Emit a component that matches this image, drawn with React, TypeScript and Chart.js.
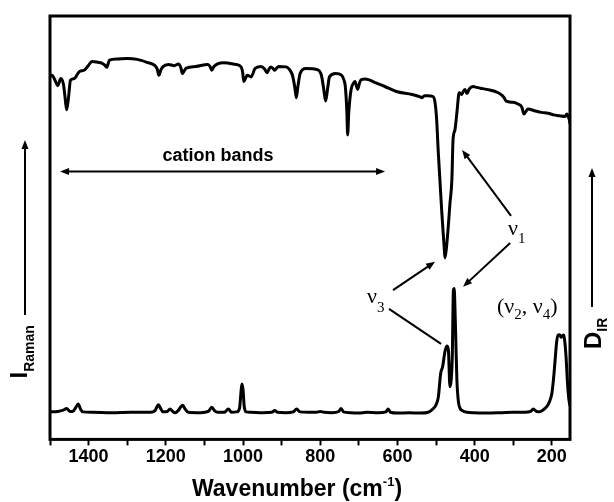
import { useEffect, useRef } from "react";
import { Chart, registerables } from "chart.js";
Chart.register(...registerables);

// ---------- data ----------
const IR_WAVENUMBER = [
  1500, 1495, 1487, 1480, 1472, 1465, 1461, 1457, 1452, 1447,
  1437, 1428, 1422, 1411, 1401, 1391, 1376, 1366, 1358, 1353,
  1346, 1325, 1300, 1274, 1249, 1228, 1222, 1218, 1213, 1208,
  1193, 1178, 1167, 1161, 1157, 1152, 1147, 1122, 1091, 1085,
  1081, 1076, 1066, 1050, 1020, 1005, 1001, 998, 993, 989,
  979, 969, 954, 944, 938, 933, 928, 922, 918, 913,
  908, 888, 877, 872, 866, 862, 858, 852, 837, 806,
  799, 796, 791, 786, 781, 776, 760, 745, 738, 735,
  731, 729, 726, 720, 713, 710, 703, 698, 694, 684,
  654, 623, 603, 562, 541, 537, 530, 522, 508, 503,
  499, 494, 490, 485, 479, 477, 473, 469, 464, 459,
  456, 451, 446, 440, 434, 430, 425, 420, 414, 404,
  400, 385, 369, 339, 325, 318, 300, 288, 278, 272,
  268, 262, 245, 227, 210, 196, 180, 166, 161, 158,
  155, 153,
];
const IR_VALUE = [
  85.5, 85.8, 84.6, 83.3, 85.0, 83.5, 80.5, 77.5, 80.5, 84.6,
  85.0, 86.2, 86.8, 87.0, 88.1, 89.1, 88.9, 88.7, 88.2, 87.7,
  89.4, 89.7, 89.8, 89.6, 88.9, 88.1, 87.2, 85.8, 87.0, 87.8,
  88.4, 88.1, 88.5, 87.6, 86.2, 86.9, 87.5, 87.9, 88.4, 87.8,
  87.0, 87.8, 88.5, 88.8, 88.4, 87.8, 86.5, 84.3, 85.2, 85.8,
  85.4, 87.4, 87.9, 87.3, 86.4, 87.2, 87.8, 87.4, 87.0, 87.5,
  87.9, 87.8, 86.8, 85.8, 83.0, 80.4, 83.0, 86.2, 87.4, 87.1,
  86.3, 85.4, 82.5, 79.6, 82.5, 85.4, 86.2, 85.8, 84.5, 83.1,
  77.0, 71.5, 77.0, 82.4, 84.0, 84.3, 82.4, 84.0, 84.7, 84.9,
  83.9, 82.7, 81.9, 81.2, 80.6, 80.4, 80.9, 80.9, 80.7, 79.5,
  76.0, 67.0, 60.7, 52.8, 44.7, 42.0, 44.5, 48.7, 55.0, 60.7,
  70.3, 72.7, 76.8, 81.6, 81.2, 81.8, 82.4, 81.4, 82.5, 83.1,
  83.0, 82.7, 82.4, 81.6, 80.6, 79.6, 79.3, 78.9, 78.2, 76.5,
  77.0, 77.7, 77.3, 76.9, 76.7, 76.3, 76.1, 75.9, 76.5, 76.0,
  75.2, 74.2,
];

const RAMAN_WAVENUMBER = [
  1500, 1480, 1466, 1457, 1448, 1440, 1433, 1427, 1421, 1415,
  1390, 1340, 1290, 1240, 1228, 1223, 1219, 1214, 1207, 1196,
  1189, 1182, 1176, 1168, 1162, 1156, 1150, 1142, 1110, 1090,
  1081, 1074, 1066, 1048, 1038, 1030, 1016, 1009, 1006, 1003,
  1000, 997, 992, 980, 950, 925, 918, 910, 890, 870,
  861, 853, 830, 810, 800, 790, 770, 752, 746, 740,
  720, 700, 680, 650, 630, 624, 618, 600, 570, 540,
  520, 507, 500, 494, 488, 483, 477, 472, 468, 464,
  461, 458, 455, 453, 451, 449, 446, 442, 438, 434,
  420, 400, 370, 330, 300, 270, 255, 248, 240, 232,
  222, 212, 206, 200, 196, 192, 188, 184, 180, 176,
  172, 169, 166, 163, 160, 157, 155, 153,
];
const RAMAN_VALUE = [
  5.1, 5.2, 5.5, 5.9, 5.2, 5.3, 6.2, 7.0, 5.8, 5.1,
  5.0, 4.9, 5.0, 5.0, 5.4, 6.3, 6.8, 6.0, 5.1, 5.2,
  5.8, 5.2, 4.9, 5.4, 6.2, 6.7, 5.8, 5.0, 4.9, 5.2,
  6.2, 5.4, 5.0, 5.0, 5.8, 5.0, 5.1, 6.0, 9.0, 11.8,
  10.5, 6.5, 5.1, 5.0, 4.9, 5.0, 5.4, 5.0, 4.9, 5.1,
  5.8, 5.1, 5.0, 5.0, 5.2, 5.0, 4.9, 5.2, 5.9, 5.1,
  4.9, 4.8, 5.0, 4.9, 5.1, 5.8, 5.0, 4.8, 4.9, 4.8,
  5.0, 5.9, 6.8, 8.7, 14.3, 15.9, 19.5, 20.9, 19.9, 11.1,
  12.5, 18.0, 34.3, 34.7, 30.0, 23.1, 12.7, 7.5, 6.0, 5.5,
  5.0, 4.9, 4.8, 4.9, 5.0, 5.0, 5.2, 5.8, 5.2, 5.1,
  5.6, 6.5, 7.6, 9.5, 12.7, 17.0, 21.5, 23.5, 23.6, 23.0,
  23.4, 23.5, 21.5, 18.0, 12.7, 9.0, 7.5, 6.5,
];

const TICK_VALUES = [1500, 1400, 1300, 1200, 1100, 1000, 900, 800, 700, 600, 500, 400, 300, 200];
const TICK_LABELS = [1400, 1200, 1000, 800, 600, 400, 200];
const X_MIN = 153;
const X_MAX = 1500;
const Y_MIN = -1.5;
const Y_MAX = 100;

// ---------- annotations (data coordinates) ----------
const CATION_ARROW = [1474, 62.7, 632, 62.7];
const CATION_TEXT_POS = [1065, 65.3];
const NU1_POS = [313.5, 47.5];
const NU3_POS = [678.8, 31.2];
const NU24_POS = [342, 28.8];
const NU_ARROWS = [
  { from: [305.7, 52.1], to: [432.6, 67.9], head: true },
  { from: [308, 45.6], to: [430, 35.1], head: true },
  { from: [611.4, 34.3], to: [502.6, 41.1], head: true },
  { from: [621.8, 29.8], to: [487, 21.4], head: false },
];

const SANS = '"Liberation Sans", Arial, sans-serif';
const SERIF = '"Liberation Serif", "Times New Roman", serif';

type Part = [string, string, number];

function drawParts(ctx: CanvasRenderingContext2D, parts: Part[], x: number, y: number) {
  let cx = x;
  for (const [t, f, dy] of parts) {
    ctx.font = f;
    ctx.fillText(t, cx, y + dy);
    cx += ctx.measureText(t).width;
  }
}
function partsWidth(ctx: CanvasRenderingContext2D, parts: Part[]) {
  let w = 0;
  for (const [t, f] of parts) {
    ctx.font = f;
    w += ctx.measureText(t).width;
  }
  return w;
}

function head(ctx: CanvasRenderingContext2D, x1: number, y1: number, x2: number, y2: number, len = 9, hw = 3.5) {
  const a = Math.atan2(y2 - y1, x2 - x1);
  ctx.beginPath();
  ctx.moveTo(x2, y2);
  ctx.lineTo(x2 - len * Math.cos(a) + hw * Math.sin(a), y2 - len * Math.sin(a) - hw * Math.cos(a));
  ctx.lineTo(x2 - len * Math.cos(a) - hw * Math.sin(a), y2 - len * Math.sin(a) + hw * Math.cos(a));
  ctx.closePath();
  ctx.fill();
}

function arrow(ctx: CanvasRenderingContext2D, x1: number, y1: number, x2: number, y2: number, endHead: boolean, startHead: boolean, lw = 2) {
  const a = Math.atan2(y2 - y1, x2 - x1);
  const sx = startHead ? x1 + 6 * Math.cos(a) : x1;
  const sy = startHead ? y1 + 6 * Math.sin(a) : y1;
  const ex = endHead ? x2 - 6 * Math.cos(a) : x2;
  const ey = endHead ? y2 - 6 * Math.sin(a) : y2;
  ctx.lineWidth = lw;
  ctx.beginPath();
  ctx.moveTo(sx, sy);
  ctx.lineTo(ex, ey);
  ctx.stroke();
  if (endHead) head(ctx, x1, y1, x2, y2);
  if (startHead) head(ctx, x2, y2, x1, y1);
}

const overlayPlugin = {
  id: "overlay",
  afterDatasetsDraw(chart: any) {
    const { ctx, chartArea: ca, scales } = chart;
    const X = (v: number) => scales.x.getPixelForValue(v);
    const Y = (v: number) => scales.y.getPixelForValue(v);
    ctx.save();
    ctx.strokeStyle = "#000";
    ctx.fillStyle = "#000";
    ctx.lineCap = "butt";

    // frame
    ctx.lineWidth = 3;
    ctx.strokeRect(ca.left, ca.top, ca.right - ca.left, ca.bottom - ca.top);

    // cation bands arrow + text
    arrow(ctx, X(CATION_ARROW[0]), Y(CATION_ARROW[1]), X(CATION_ARROW[2]), Y(CATION_ARROW[3]), true, true, 2);
    ctx.font = `bold 18px ${SANS}`;
    ctx.textAlign = "center";
    ctx.textBaseline = "alphabetic";
    ctx.fillText("cation bands", X(CATION_TEXT_POS[0]), Y(CATION_TEXT_POS[1]));
    ctx.textAlign = "left";

    // nu arrows
    for (const a of NU_ARROWS) {
      arrow(ctx, X(a.from[0]), Y(a.from[1]), X(a.to[0]), Y(a.to[1]), a.head, false, 2);
    }

    // nu labels
    const big = `22px ${SERIF}`;
    const sub = `15px ${SERIF}`;
    drawParts(ctx, [["ν", big, 0], ["1", sub, 8]], X(NU1_POS[0]), Y(NU1_POS[1]));
    drawParts(ctx, [["ν", big, 0], ["3", sub, 9]], X(NU3_POS[0]), Y(NU3_POS[1]));
    drawParts(
      ctx,
      [["(ν", big, 0], ["2", sub, 6], [", ν", big, 0], ["4", sub, 6], [")", big, 0]],
      X(NU24_POS[0]),
      Y(NU24_POS[1])
    );

    // x axis title
    const tParts: Part[] = [
      ["Wavenumber (cm", `bold 23px ${SANS}`, 0],
      ["-1", `bold 13px ${SANS}`, -10],
      [")", `bold 23px ${SANS}`, 0],
    ];
    const tw = partsWidth(ctx, tParts);
    drawParts(ctx, tParts, 297 - tw / 2, 496);

    // left axis label I_Raman
    ctx.save();
    ctx.translate(ca.left - 23, 378.5);
    ctx.rotate(-Math.PI / 2);
    drawParts(ctx, [["I", `bold 24px ${SANS}`, 0], ["Raman", `bold 14px ${SANS}`, 7]], 0, 0);
    ctx.restore();
    arrow(ctx, ca.left - 25, 315, ca.left - 25, 140, true, false, 2);

    // right axis label D_IR
    ctx.save();
    ctx.translate(ca.right + 31, 349);
    ctx.rotate(-Math.PI / 2);
    drawParts(ctx, [["D", `bold 24px ${SANS}`, 0], ["IR", `bold 14px ${SANS}`, 6]], 0, 0);
    ctx.restore();
    arrow(ctx, ca.right + 22, 307, ca.right + 22, 168, true, false, 2);

    ctx.restore();
  },
};

export default function App() {
  const ref = useRef<HTMLCanvasElement | null>(null);
  useEffect(() => {
    if (!ref.current) return;
    const ir = IR_WAVENUMBER.map((w, i) => ({ x: w, y: IR_VALUE[i] }));
    const raman = RAMAN_WAVENUMBER.map((w, i) => ({ x: w, y: RAMAN_VALUE[i] }));
    const chart = new Chart(ref.current, {
      type: "line",
      data: {
        datasets: [
          {
            label: "IR",
            data: ir,
            borderColor: "#000",
            borderWidth: 3,
            pointRadius: 0,
            fill: false,
            cubicInterpolationMode: "monotone",
          },
          {
            label: "Raman",
            data: raman,
            borderColor: "#000",
            borderWidth: 3,
            pointRadius: 0,
            fill: false,
            cubicInterpolationMode: "monotone",
          },
        ],
      },
      options: {
        responsive: false,
        animation: false,
        devicePixelRatio: 1,
        layout: { padding: { left: 50, right: 44, top: 16, bottom: 33 } },
        plugins: { legend: { display: false }, tooltip: { enabled: false } },
        scales: {
          x: {
            type: "linear",
            min: X_MIN,
            max: X_MAX,
            reverse: true,
            afterBuildTicks: (s: any) => {
              s.ticks = TICK_VALUES.map((v) => ({ value: v }));
            },
            ticks: {
              autoSkip: false,
              maxRotation: 0,
              padding: 1,
              color: "#000",
              font: { family: SANS, size: 18, weight: "bold" },
              callback: (v: any) => (TICK_LABELS.includes(Number(v)) ? String(v) : ""),
            },
            grid: {
              display: true,
              drawOnChartArea: false,
              drawTicks: true,
              tickLength: 6,
              tickWidth: 2,
              color: "#000",
            },
            border: { display: false },
          },
          y: { display: false, min: Y_MIN, max: Y_MAX },
        },
      },
      plugins: [overlayPlugin],
    } as any);
    return () => chart.destroy();
  }, []);
  return (
    <div style={{ position: "absolute", left: 0, top: 0, width: 614, height: 502, background: "#fff" }}>
      <canvas ref={ref} width={614} height={502} />
    </div>
  );
}
